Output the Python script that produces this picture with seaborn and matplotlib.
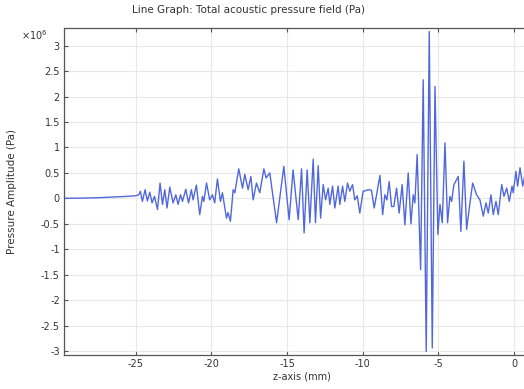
import numpy as np
import pandas as pd
import matplotlib
matplotlib.use("Agg")
import matplotlib.pyplot as plt
import seaborn as sns

# z position (mm) and total acoustic pressure (units of 1e6 Pa)
z_mm = [
    -29.74, -28.5, -27.5, -26.5, -25.5, -25.0, -24.80,
    -24.69, -24.56, -24.38, -24.23, -24.07, -23.92, -23.76, -23.56, -23.39, -23.23,
    -23.08, -22.93, -22.75, -22.53, -22.35, -22.20, -22.04, -21.91, -21.69, -21.51,
    -21.32, -21.21, -20.99, -20.77, -20.59, -20.50, -20.32, -20.11, -19.93, -19.78,
    -19.60, -19.40, -19.27, -19.00, -18.90, -18.74, -18.56, -18.45, -18.19, -17.94,
    -17.79, -17.57, -17.39, -17.24, -17.02, -16.80, -16.53, -16.38, -16.14, -15.69,
    -15.21, -14.86, -14.60, -14.26, -14.04, -13.87, -13.67, -13.49, -13.27, -13.12,
    -12.94, -12.78, -12.61, -12.45, -12.28, -12.17, -11.99, -11.84, -11.62, -11.51,
    -11.33, -11.18, -11.00, -10.85, -10.67, -10.52, -10.36, -10.19, -9.97, -9.80,
    -9.64, -9.42, -9.24, -9.08, -8.86, -8.68, -8.53, -8.40, -8.25, -8.09,
    -7.94, -7.76, -7.59, -7.39, -7.21, -6.99, -6.81, -6.66, -6.55, -6.40,
    -6.17, -6.00, -5.80, -5.60, -5.40, -5.22, -5.03, -4.89, -4.74, -4.56,
    -4.39, -4.23, -4.12, -3.97, -3.79, -3.68, -3.51, -3.31, -3.13, -2.91,
    -2.73, -2.47, -2.25, -2.03, -1.85, -1.70, -1.52, -1.37, -1.19, -1.04,
    -0.81, -0.66, -0.48, -0.31, -0.13, -0.05, 0.13, 0.24, 0.40, 0.58, 0.70,
]
pressure_1e6 = [
    0.0, 0.005, 0.012, 0.025, 0.04, 0.05, 0.07,
    0.14, -0.06, 0.17, -0.05, 0.12, -0.09, 0.04, -0.22, 0.30, -0.12,
    0.17, -0.19, 0.22, -0.09, 0.07, -0.12, 0.07, -0.06, 0.18, -0.09,
    0.17, -0.03, 0.26, -0.32, 0.04, -0.06, 0.30, -0.03, 0.07, -0.09,
    0.38, -0.06, 0.11, -0.39, -0.28, -0.45, 0.17, 0.11, 0.58, 0.20,
    0.47, 0.17, 0.43, -0.03, 0.30, 0.11, 0.58, 0.40, 0.50, -0.48,
    0.63, -0.42, 0.56, -0.42, 0.58, -0.68, 0.56, -0.48, 0.77, -0.48,
    0.64, -0.39, 0.27, -0.03, 0.20, -0.12, 0.24, -0.19, 0.24, -0.12,
    0.24, -0.06, 0.30, 0.14, 0.27, -0.03, 0.05, -0.29, 0.14, 0.15,
    0.17, 0.16, -0.19, 0.07, 0.45, -0.32, 0.07, -0.03, 0.33, -0.16,
    -0.16, 0.20, -0.29, 0.27, -0.52, 0.50, -0.50, 0.07, -0.09, 0.86,
    -1.40, 2.33, -3.01, 3.28, -2.94, 2.20, -0.71, -0.12, -0.48, 1.09,
    -0.48, 0.04, -0.06, 0.27, 0.37, 0.43, -0.65, 0.73, -0.61, -0.09,
    0.30, 0.07, -0.03, -0.35, -0.09, -0.29, 0.07, -0.32, -0.06, -0.32,
    0.27, 0.04, 0.20, -0.06, 0.24, 0.11, 0.53, 0.24, 0.60, 0.24, 0.43,
]
x_ticks = [-25, -20, -15, -10, -5, 0]
y_ticks = [-3, -2.5, -2, -1.5, -1, -0.5, 0, 0.5, 1, 1.5, 2, 2.5, 3]
y_tick_labels = ["-3", "-2.5", "-2", "-1.5", "-1", "-0.5", "0", "0.5", "1", "1.5", "2", "2.5", "3"]

df = pd.DataFrame({"z": z_mm, "p": pressure_1e6})

sns.set_theme(style="white")
plt.rcParams["font.family"] = ["DejaVu Sans"]
plt.rcParams["axes.unicode_minus"] = False

W, H = 524, 389
fig = plt.figure(figsize=(W / 100, H / 100), dpi=100)
left_px, right_px, top_px, bottom_px = 64, 540, 28, 355
ax = fig.add_axes([left_px / W, 1 - bottom_px / H, (right_px - left_px) / W, (bottom_px - top_px) / H])

sns.lineplot(data=df, x="z", y="p", ax=ax, color="#5168dc", linewidth=1.0,
             estimator=None, sort=False)

ax.set_xlim(-29.74, 1.72)
ax.set_ylim(-3.079, 3.348)
ax.set_xticks(x_ticks)
ax.set_xticklabels([str(t) for t in x_ticks])
ax.set_yticks(y_ticks)
ax.set_yticklabels(y_tick_labels)

ax.grid(True, color="#e8e8e8", linewidth=0.8)
ax.set_axisbelow(True)
for name, s in ax.spines.items():
    s.set_color("#555555")
    s.set_linewidth(0.9)
ax.spines["right"].set_visible(False)
ax.tick_params(axis="both", direction="in", length=3, width=0.8, color="#555555",
               labelsize=7, labelcolor="#333333", pad=3, top=True, right=False,
               bottom=True, left=True)

ax.set_xlabel("z-axis (mm)", fontsize=7, color="#333333", labelpad=2)
ax.set_ylabel("Pressure Amplitude (Pa)", fontsize=7.5, color="#333333", labelpad=17)

fig.text(249 / W, 1 - 10 / H, "Line Graph: Total acoustic pressure field (Pa)",
         ha="center", va="center", fontsize=7.5, color="#333333")
fig.text(34 / W, 1 - 35 / H, r"$\times10^{6}$", ha="center", va="center",
         fontsize=7, color="#333333")

fig.savefig("out.png", dpi=100)
